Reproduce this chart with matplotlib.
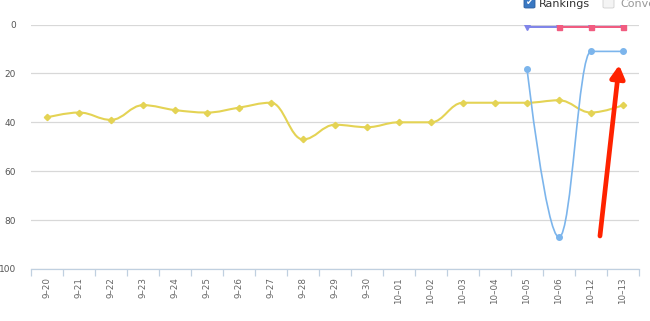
import numpy as np
import matplotlib
matplotlib.use("Agg")
import matplotlib.pyplot as plt
from matplotlib.path import Path
from matplotlib.patches import PathPatch, FancyBboxPatch, FancyArrowPatch
import matplotlib.patheffects as pe

# data
dates = ["9-20", "9-21", "9-22", "9-23", "9-24", "9-25", "9-26", "9-27", "9-28", "9-29",
         "9-30", "10-01", "10-02", "10-03", "10-04", "10-05", "10-06", "10-12", "10-13"]
yellow_rank = [38, 36, 39, 33, 35, 36, 34, 32, 47, 41, 42, 40, 40, 32, 32, 32, 31, 36, 33]
lightblue_rank = [None] * 15 + [18, 87, 11, 11]
purple_rank = [None] * 15 + [1, 1, 1, 1]
red_rank = [None] * 16 + [1, 1, 1]

tick_labels = [d.replace("-", "\u2013") for d in dates]


def spline_path(xs, ys, smoothing=1.5):
    # Highcharts-style spline through the points
    pts = [(x, y) for x, y in zip(xs, ys) if y is not None]
    n = len(pts)
    denom = smoothing + 1
    lc = [None] * n
    rc = [None] * n
    for i in range(n):
        px, py = pts[i]
        if 0 < i < n - 1:
            lx, ly = pts[i - 1]
            nx, ny = pts[i + 1]
            lcx = (smoothing * px + lx) / denom
            lcy = (smoothing * py + ly) / denom
            rcx = (smoothing * px + nx) / denom
            rcy = (smoothing * py + ny) / denom
            corr = 0
            if rcx != lcx:
                corr = (rcy - lcy) * (rcx - px) / (rcx - lcx) + py - rcy
            lcy += corr
            rcy += corr
            if lcy > ly and lcy > py:
                lcy = max(ly, py)
                rcy = 2 * py - lcy
            elif lcy < ly and lcy < py:
                lcy = min(ly, py)
                rcy = 2 * py - lcy
            if rcy > ny and rcy > py:
                rcy = max(ny, py)
                lcy = 2 * py - rcy
            elif rcy < ny and rcy < py:
                rcy = min(ny, py)
                lcy = 2 * py - rcy
            lc[i] = (lcx, lcy)
            rc[i] = (rcx, rcy)
    verts = [pts[0]]
    codes = [Path.MOVETO]
    for i in range(1, n):
        c1 = rc[i - 1] if rc[i - 1] is not None else pts[i - 1]
        c2 = lc[i] if lc[i] is not None else pts[i]
        verts += [c1, c2, pts[i]]
        codes += [Path.CURVE4] * 3
    return Path(verts, codes), pts


fig = plt.figure(figsize=(6.5, 3.21), dpi=100)
ax = fig.add_axes([31 / 650, 1 - 269 / 321, 608 / 650, 244.5 / 321])

x = np.arange(len(dates))
series = [
    (yellow_rank, "#e4d354", "D", 3.2, 1.5),
    (lightblue_rank, "#7cb5ec", "o", 4.0, 1.2),
    (purple_rank, "#8085e9", "v", 4.0, 1.5),
    (red_rank, "#f15c80", "s", 3.6, 1.5),
]
for vals, col, mk, ms, lw in series:
    path, pts = spline_path(x, vals)
    ax.add_patch(PathPatch(path, facecolor="none", edgecolor=col, lw=lw, zorder=3))
    px = [p[0] for p in pts]
    py = [p[1] for p in pts]
    ax.plot(px, py, linestyle="none", marker=mk, ms=ms, color=col, mec=col, zorder=4)

ax.set_xlim(-0.5, len(dates) - 0.5)
ax.set_ylim(100, 0)
ax.set_yticks([0, 20, 40, 60, 80, 100])
ax.tick_params(axis="y", length=0, pad=11, labelsize=6.5, labelcolor="#555555")
ax.yaxis.grid(True, color="#d8d8d8", lw=0.9)
ax.set_axisbelow(True)

ax.set_xticks(x)
ax.set_xticklabels(tick_labels, rotation=90, fontsize=6.3, color="#666666")
ax.tick_params(axis="x", length=0, pad=6)
ax.set_xticks(np.arange(-0.5, len(dates)), minor=True)
ax.tick_params(axis="x", which="minor", length=5, color="#c0d0e0", width=0.9)

for s in ["top", "right", "left"]:
    ax.spines[s].set_visible(False)
ax.spines["bottom"].set_color("#c0d0e0")
ax.spines["bottom"].set_linewidth(0.9)

# red annotation arrow
arrow = FancyArrowPatch((17.28, 86.5), (17.88, 16.6),
                        arrowstyle="-|>,head_width=0.42,head_length=0.75",
                        mutation_scale=10, color="#ff2200", lw=3.4,
                        shrinkA=0, shrinkB=0, zorder=6, clip_on=False,
                        path_effects=[pe.SimplePatchShadow(offset=(1.5, -1.2), alpha=0.3),
                                      pe.Normal()])
ax.add_patch(arrow)

# legend-like checkboxes at the top
W, H = 650.0, 321.0
box1 = FancyBboxPatch((524 / W, 1 - 8 / H), 11 / W, 12 / H, boxstyle="round,pad=0,rounding_size=0.003",
                      transform=fig.transFigure, facecolor="#3a78c2", edgecolor="#2d5f9e", lw=0.6,
                      clip_on=False)
fig.patches.append(box1)
fig.text(529.5 / W, 1 - 2.5 / H, "\u2714", color="white", fontsize=6.5, ha="center", va="center")
fig.text(539 / W, 1 - 4 / H, "Rankings", color="#333333", fontsize=8, ha="left", va="center")
box2 = FancyBboxPatch((603 / W, 1 - 8 / H), 11 / W, 12 / H, boxstyle="round,pad=0,rounding_size=0.003",
                      transform=fig.transFigure, facecolor="#f4f4f4", edgecolor="#d0d0d0", lw=0.6,
                      clip_on=False)
fig.patches.append(box2)
fig.text(620 / W, 1 - 4 / H, "Conversions", color="#999999", fontsize=8, ha="left", va="center")

fig.savefig("out.png", dpi=100)
